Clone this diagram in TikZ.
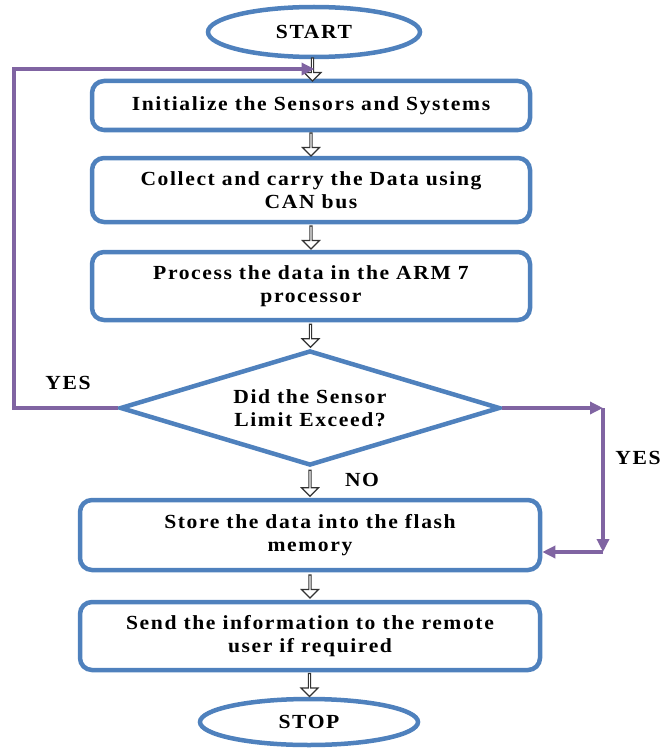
\documentclass[tikz,border=0pt]{standalone}
\usepackage{fontspec}
\setmainfont{Liberation Serif}[LetterSpace=8, FakeStretch=1.08]
\usetikzlibrary{shapes.geometric,shapes.arrows,arrows.meta,calc}
\definecolor{boxblue}{HTML}{4F81BD}
\definecolor{loopviolet}{HTML}{8064A2}

\begin{document}
\begin{tikzpicture}[x=1pt,y=-1pt,
  txt/.style={font=\fontsize{20}{22.5}\selectfont\bfseries, align=center, text=black},
  base/.style={txt, draw=boxblue, line width=4.5pt, inner sep=0pt},
  stepbox/.style={base, rectangle, rounded corners=12pt, minimum width=#1},
  stepbox/.default=438pt,
  term/.style={base, ellipse, minimum width=212pt, minimum height=50pt},
  decision/.style={base, diamond, shape aspect=3.3, minimum width=380pt, minimum height=115pt},
  hollow/.style={single arrow, draw=black!80, fill=white, line width=1.2pt,
    rotate=-90, minimum height=#1, minimum width=17pt, inner sep=0pt,
    single arrow head extend=4pt, single arrow tip angle=90},
  hollow/.default=23pt,
  loopline/.style={draw=loopviolet, line width=4pt},
  looptip/.style={-{Triangle[length=13pt,width=12pt]}},
  lbl/.style={txt}
]
\useasboundingbox (0,0) rectangle (662,749);

% main flow
\node[term] (start) at (314,32) {START};
\node[stepbox, minimum height=49pt] (b1) at (311,105.5) {Initialize the Sensors and Systems};
\node[stepbox, minimum height=64pt] (b2) at (311,190) {Collect and carry the Data using\\CAN bus};
\node[stepbox, minimum height=68pt] (b3) at (311,286) {Process the data in the ARM 7\\processor};
\node[decision] (dec) at (310,408) {Did the Sensor\\Limit Exceed?};
\node[stepbox=460pt, minimum height=70pt] (b4) at (310,535) {Store the data into the flash\\memory};
\node[stepbox=460pt, minimum height=68pt] (b5) at (310,636) {Send the information to the remote\\user if required};
\node[term, minimum width=218pt, minimum height=46pt] (stop) at (309,722) {STOP};

% hollow step arrows
\node[hollow] (h0) at ($(start.south)!0.5!(b1.north)$) {};
\node[hollow] (h1) at ($(b1.south)!0.5!(b2.north)$) {};
\node[hollow] (h2) at ($(b2.south)!0.5!(b3.north)$) {};
\node[hollow] (h3) at ($(b3.south)!0.5!(dec.north)$) {};
\node[hollow=26pt] (h4) at ($(dec.south)!0.5!(b4.north)$) {};
\node[hollow] (h5) at ($(b4.south)!0.5!(b5.north)$) {};
\node[hollow] (h6) at ($(b5.south)!0.5!(stop.north)$) {};

% loop back to initialisation
\coordinate (lcorner) at (14,408);
\draw[loopline, looptip, shorten >=-2pt] (dec.west) -- (lcorner) |- (h0.center);

% branch to storage
\coordinate (rc1) at (603,408);
\coordinate (rc2) at (603,552);
\draw[loopline, looptip] (dec.east) -- (rc1);
\draw[loopline, looptip] (rc1) -- (rc2);
\draw[loopline, looptip] (rc2) -- (b4.east |- rc2);

% labels
\node[lbl] (yesl) at (68,383) {YES};
\node[lbl] (yesr) at (638,458) {YES};
\node[lbl] (no) at (362,480) {NO};
\end{tikzpicture}
\end{document}
